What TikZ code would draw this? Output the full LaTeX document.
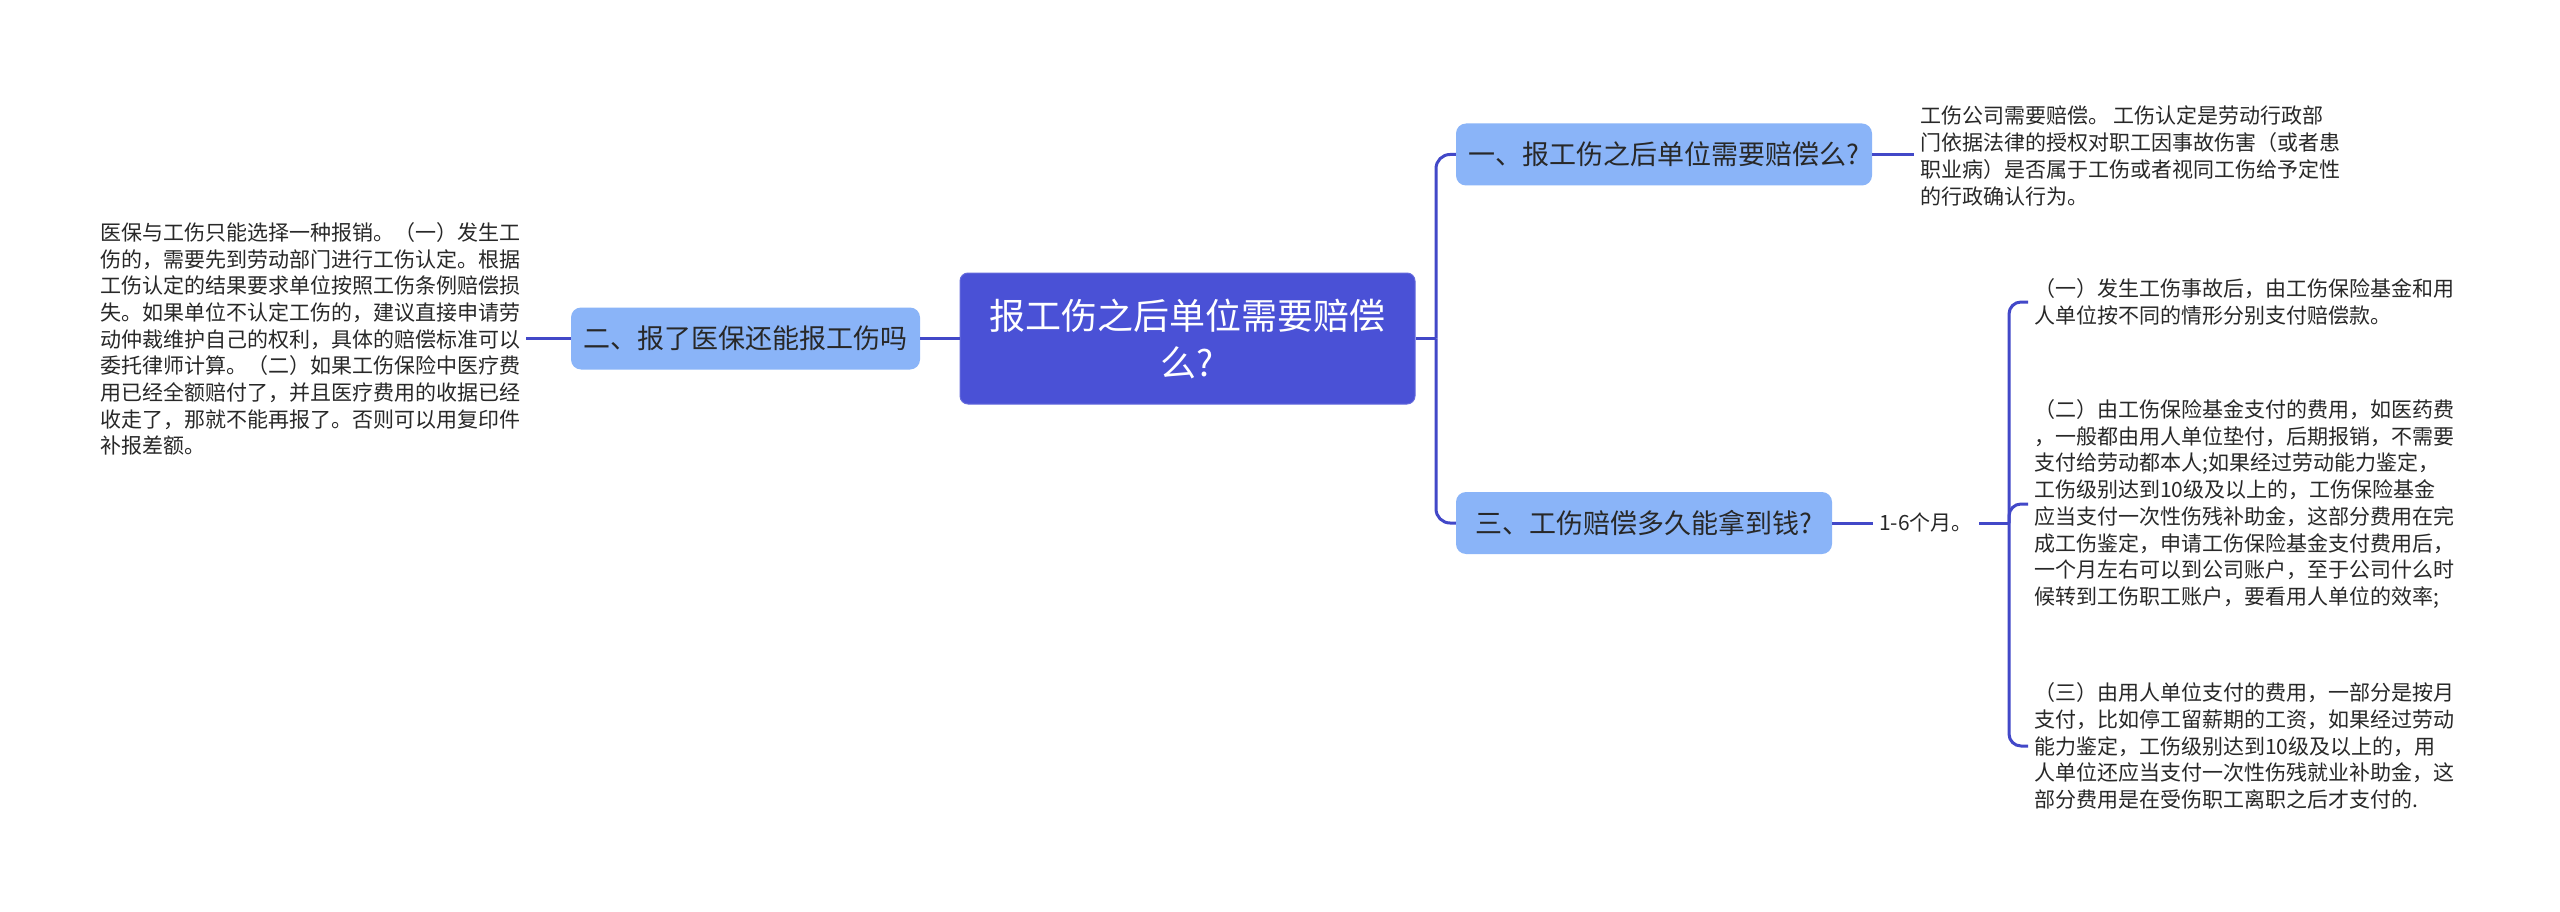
\documentclass[tikz,border=0pt]{standalone}
\usepackage{fontspec}
\setmainfont{Noto Sans CJK SC}
\definecolor{lineC}{RGB}{66,72,200}
\definecolor{rootC}{RGB}{74,81,214}
\definecolor{subC}{RGB}{138,180,248}
\definecolor{txtC}{RGB}{40,40,40}
\begin{document}
\begin{tikzpicture}[x=1pt,y=-1pt,
  conn/.style={draw=lineC, line width=3pt},
  rootbox/.style={rectangle, rounded corners=8pt, fill=rootC, draw=rootC!85!white, line width=1pt, text=white, minimum width=455pt, minimum height=131pt, align=center, font=\fontsize{36}{47}\selectfont, inner sep=0pt},
  subbox/.style={rectangle, rounded corners=10pt, fill=subC, text=txtC, minimum height=62pt, inner sep=0pt, font=\fontsize{27}{32}\selectfont},
  leaf/.style={align=left, inner sep=6pt, font=\fontsize{21}{26.7}\selectfont, text=txtC}]
\useasboundingbox (0,0) rectangle (2560,912);
\fill[white] (0,0) rectangle (2560,912);

\node[rootbox] (c) at (1187.5,338.5) {报工伤之后单位需要赔偿\\么?};
\node[subbox, minimum width=349pt] (n2) at (745.5,338.5) {二、报了医保还能报工伤吗};
\node[subbox, minimum width=416pt] (n1) at (1664,154.5) {一、报工伤之后单位需要赔偿么?};
\node[subbox, minimum width=376pt] (n3) at (1644,523) {三、工伤赔偿多久能拿到钱?};

\node[leaf, anchor=west] (l2) at (94,339) {医保与工伤只能选择一种报销。（一）发生工\\伤的，需要先到劳动部门进行工伤认定。根据\\工伤认定的结果要求单位按照工伤条例赔偿损\\失。如果单位不认定工伤的，建议直接申请劳\\动仲裁维护自己的权利，具体的赔偿标准可以\\委托律师计算。（二）如果工伤保险中医疗费\\用已经全额赔付了，并且医疗费用的收据已经\\收走了，那就不能再报了。否则可以用复印件\\补报差额。};

\node[leaf, anchor=west] (l1) at (1914,156) {工伤公司需要赔偿。 工伤认定是劳动行政部\\门依据法律的授权对职工因事故伤害（或者患\\职业病）是否属于工伤或者视同工伤给予定性\\的行政确认行为。};

\node[leaf] (m) at (1926,523) {1-6个月。};

\node[leaf, anchor=west] (a) at (2028,302) {（一）发生工伤事故后，由工伤保险基金和用\\人单位按不同的情形分别支付赔偿款。};
\node[leaf, anchor=west] (b) at (2028,504) {（二）由工伤保险基金支付的费用，如医药费\\，一般都由用人单位垫付，后期报销，不需要\\支付给劳动都本人;如果经过劳动能力鉴定，\\工伤级别达到10级及以上的，工伤保险基金\\应当支付一次性伤残补助金，这部分费用在完\\成工伤鉴定，申请工伤保险基金支付费用后，\\一个月左右可以到公司账户，至于公司什么时\\候转到工伤职工账户，要看用人单位的效率;};
\node[leaf, anchor=west] (cc) at (2028,746) {（三）由用人单位支付的费用，一部分是按月\\支付，比如停工留薪期的工资，如果经过劳动\\能力鉴定，工伤级别达到10级及以上的，用\\人单位还应当支付一次性伤残就业补助金，这\\部分费用是在受伤职工离职之后才支付的.};

\coordinate (jR) at (1436,338.5);
\coordinate (jT) at (2009,523);

\draw[conn] (c.west) -- (n2.east);
\draw[conn] (n2.west) -- (l2.east |- n2.west);
\draw[conn] (c.east) -- (jR);
\draw[conn, rounded corners=14pt] (jR) |- (n1.west);
\draw[conn, rounded corners=14pt] (jR) |- (n3.west);
\draw[conn] (n1.east) -- (l1.west |- n1.east);
\draw[conn] (n3.east) -- (m.west);
\draw[conn] (m.east) -- (jT);
\draw[conn, rounded corners=12pt] (jT) |- (a.west);
\draw[conn, rounded corners=12pt] (jT) |- (b.west);
\draw[conn, rounded corners=12pt] (jT) |- (cc.west);
\end{tikzpicture}
\end{document}
